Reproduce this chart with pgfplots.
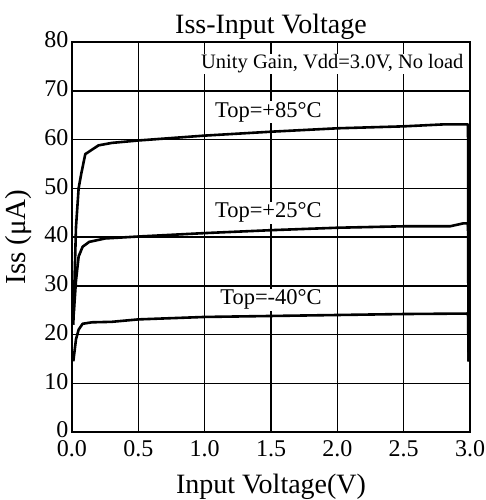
\documentclass[border=0pt]{standalone}
\usepackage{fontspec}
\setmainfont{Liberation Serif}
\usepackage{pgfplots}
\pgfplotsset{compat=1.18}
\begin{document}
\begin{tikzpicture}[x=1pt,y=1pt]
\useasboundingbox (-72,-68) rectangle (414,432);
\begin{axis}[
  at={(0,0)}, anchor=south west,
  scale only axis, width=398pt, height=390pt,
  xmin=0, xmax=3, ymin=0, ymax=80,
  xtick={0,0.5,1,1.5,2,2.5,3},
  ytick={0,10,20,30,40,50,60,70,80},
  xticklabel style={/pgf/number format/fixed, /pgf/number format/fixed zerofill, /pgf/number format/precision=1, yshift=-8pt},
  /pgf/number format/assume math mode=true,
  tick label style={font=\fontsize{24}{24}\selectfont, inner sep=0.5pt},
  major tick length=0pt,
  grid=major,
  major grid style={black, line width=1.5pt},
  axis line style={black, line width=1.8pt},
  title={Iss-Input Voltage},
  title style={font=\fontsize{28}{28}\selectfont, yshift=-7pt},
  xlabel={Input Voltage(V)},
  ylabel={Iss (μA)},
  xlabel style={font=\fontsize{28}{28}\selectfont, yshift=-13pt},
  ylabel style={font=\fontsize{29}{29}\selectfont, yshift=9pt},
  yticklabel style={xshift=-3pt, yshift=2pt},
]
\addplot[black, line width=2.6pt, line join=round] coordinates {
(0.01,22) (0.03,42) (0.05,50) (0.07,53) (0.1,57) (0.2,58.8) (0.3,59.3) (0.5,59.8) (1.0,60.8) (1.5,61.6) (2.0,62.3) (2.5,62.7) (2.8,63.1) (2.985,63.1) (2.99,14.5)
};
\addplot[black, line width=2.6pt, line join=round] coordinates {
(0.01,23) (0.03,31) (0.05,36) (0.08,38) (0.13,39) (0.25,39.7) (0.5,40.1) (1.0,40.8) (1.5,41.4) (2.0,41.9) (2.5,42.2) (2.85,42.2) (2.95,42.8) (2.985,42.8) (2.99,14.5)
};
\addplot[black, line width=2.6pt, line join=round] coordinates {
(0.01,14.5) (0.03,19) (0.05,21) (0.08,22.2) (0.15,22.5) (0.3,22.6) (0.5,23.1) (1.0,23.6) (1.5,23.8) (2.0,24.0) (2.5,24.2) (2.985,24.3) (2.99,14.5)
};
\node[fill=white, inner sep=1pt, anchor=east, font=\fontsize{20.5}{20.5}\selectfont] at (axis cs:2.96,75.5) {Unity Gain, Vdd=3.0V, No load};
\node[fill=white, inner sep=1pt, font=\fontsize{22.5}{22.5}\selectfont] at (axis cs:1.48,65.6) {Top=+85°C};
\node[fill=white, inner sep=1pt, font=\fontsize{22.5}{22.5}\selectfont] at (axis cs:1.48,45.0) {Top=+25°C};
\node[fill=white, inner sep=1pt, font=\fontsize{22.5}{22.5}\selectfont] at (axis cs:1.50,27.1) {Top=-40°C};
\end{axis}
\end{tikzpicture}
\end{document}
